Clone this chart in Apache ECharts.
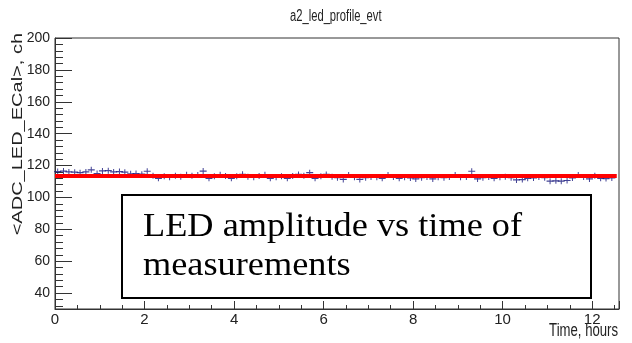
<!DOCTYPE html>
<html>
<head>
<meta charset="utf-8">
<script src="https://cdn.jsdelivr.net/npm/echarts@6/dist/echarts.min.js"></script>
<style>
  html, body { margin: 0; padding: 0; background: #fff; }
  #chart { width: 632px; height: 343px; }
</style>
</head>
<body>
<div id="chart"></div>
<script>
// texts
const chartTitle = 'a2_led_profile_evt'
const yTitle = '<ADC_LED_ECal>, ch'
const xTitle = 'Time, hours'
const noteLines = ['LED amplitude vs time of', 'measurements']

// profile bins: time (hours) and mean ADC
const timeHours = [
  0.06, 0.19, 0.31, 0.44, 0.56, 0.69, 0.81, 0.94, 1.06, 1.19,
  1.31, 1.44, 1.56, 1.69, 1.81, 1.94, 2.06, 2.19, 2.31, 2.44,
  2.56, 2.69, 2.81, 2.94, 3.06, 3.19, 3.31, 3.44, 3.56, 3.69,
  3.81, 3.94, 4.06, 4.19, 4.31, 4.44, 4.56, 4.69, 4.81, 4.94,
  5.06, 5.19, 5.31, 5.44, 5.56, 5.69, 5.81, 5.94, 6.06, 6.19,
  6.31, 6.44, 6.56, 6.69, 6.81, 6.94, 7.06, 7.19, 7.31, 7.44,
  7.56, 7.69, 7.81, 7.94, 8.06, 8.19, 8.31, 8.44, 8.56, 8.69,
  8.81, 8.94, 9.06, 9.19, 9.31, 9.44, 9.56, 9.69, 9.81, 9.94,
  10.06, 10.19, 10.31, 10.44, 10.56, 10.69, 10.81, 10.94, 11.06, 11.19,
  11.31, 11.44, 11.56, 11.69, 11.81, 11.94, 12.06, 12.19, 12.31, 12.44
]
const adcMean = [
  116.2, 116.5, 116.0, 115.8, 115.5, 116.0, 117.3, 115.0, 116.6, 116.8,
  116.0, 116.2, 115.8, 114.8, 115.0, 114.6, 116.4, 113.6, 112.0, 113.2,
  112.6, 113.6, 113.0, 114.2, 113.6, 114.0, 116.5, 112.0, 113.2, 114.2,
  113.4, 112.0, 113.2, 114.5, 113.0, 112.6, 113.4, 114.2, 112.0, 112.6,
  113.2, 112.0, 113.4, 114.4, 113.6, 115.5, 112.0, 113.2, 114.4, 113.0,
  112.4, 111.3, 114.0, 112.6, 111.3, 112.4, 112.8, 112.6, 112.0, 114.0,
  112.8, 112.0, 112.6, 112.2, 111.6, 112.4, 112.8, 111.6, 112.6, 112.4,
  112.8, 114.0, 112.6, 112.8, 116.4, 111.6, 112.4, 112.8, 112.0, 112.6,
  113.0, 112.4, 111.0, 111.2, 112.0, 112.2, 112.8, 112.4, 110.2, 110.4,
  110.2, 110.6, 112.2, 114.0, 112.8, 111.6, 113.6, 112.0, 111.8, 112.2
]

// constant fit
const fitTime = [0, 12.55]
const fitLevel = [113.5, 113.5]

// y ticks (major every 20, minor every 4)
const yMajorTicks = [40, 60, 80, 100, 120, 140, 160, 180, 200]
const yMinorTicks = []
for (let v = 32; v < 200; v += 4) {
  if (v % 20 !== 0) yMinorTicks.push(v)
}

const labelFont = 'Liberation Sans, Arial, sans-serif'
const plusSymbol = 'path://M0,2.4L3,2.4L3,0L4,0L4,2.4L7,2.4L7,3.6L4,3.6L4,6L3,6L3,3.6L0,3.6Z'

// extra left axes that only carry tick marks
const tickAxis = (values, len) => ({
  type: 'value',
  min: 30, max: 200,
  position: 'left',
  offset: 0,
  axisLine: { show: false, onZero: false },
  axisTick: { show: true, inside: true, length: len, customValues: values, lineStyle: { color: '#333' } },
  axisLabel: { show: false },
  splitLine: { show: false }
})

const chart = echarts.init(document.getElementById('chart'), null, { renderer: 'canvas' })

const option = {
  animation: false,
  backgroundColor: '#fff',
  grid: {
    left: 55, right: 13, top: 38, bottom: 34,
    show: true, borderColor: '#333', borderWidth: 1
  },
  xAxis: {
    type: 'value',
    min: 0, max: 12.6, interval: 2,
    axisLine: { onZero: false, lineStyle: { color: '#333', width: 1 } },
    axisTick: { inside: true, length: 8, lineStyle: { color: '#333' } },
    minorTick: { show: true, splitNumber: 4, length: 4, lineStyle: { color: '#333' } },
    axisLabel: { showMaxLabel: false, margin: 3, fontSize: 15, fontFamily: labelFont, color: '#222' },
    splitLine: { show: false }
  },
  yAxis: [
    {
      // axis line and labels
      type: 'value',
      min: 30, max: 200,
      offset: 0,
      axisLine: { show: true, onZero: false, lineStyle: { color: '#333', width: 1 } },
      axisTick: { show: false },
      axisLabel: { customValues: yMajorTicks, margin: 5, fontSize: 14, fontFamily: labelFont, color: '#222' },
      splitLine: { show: false }
    },
    tickAxis(yMajorTicks, 17),
    tickAxis(yMinorTicks, 8)
  ],
  series: [
    {
      type: 'scatter',
      data: timeHours.map((t, i) => [t, adcMean[i]]),
      symbol: plusSymbol,
      symbolSize: [7, 6],
      itemStyle: { color: '#14147a' },
      z: 2
    },
    {
      type: 'line',
      data: fitTime.map((t, i) => [t, fitLevel[i]]),
      showSymbol: false,
      lineStyle: { color: '#ff0000', width: 4 },
      z: 3
    }
  ],
  graphic: [
    {
      type: 'text', x: 290, y: 17, scaleX: 0.7,
      style: { text: chartTitle, fontSize: 16, fontFamily: 'Liberation Sans, Arial, sans-serif', fill: '#222', textAlign: 'left', textVerticalAlign: 'middle' }
    },
    {
      type: 'text', x: 18, y: 33, rotation: Math.PI / 2, scaleY: 0.7,
      style: { text: yTitle, fontSize: 20, fontFamily: 'Liberation Sans, Arial, sans-serif', fill: '#222', textAlign: 'right', textVerticalAlign: 'middle' }
    },
    {
      type: 'text', x: 618, y: 331, scaleX: 0.73,
      style: { text: xTitle, fontSize: 18, fontFamily: 'Liberation Sans, Arial, sans-serif', fill: '#222', textAlign: 'right', textVerticalAlign: 'middle' }
    },
    {
      type: 'rect', z: 100,
      shape: { x: 122, y: 195, width: 469, height: 103 },
      style: { fill: '#fff', stroke: '#000', lineWidth: 2 }
    },
    {
      type: 'text', z: 101, x: 143, y: 227, scaleX: 1.1,
      style: { text: noteLines[0], fontSize: 33, fontFamily: 'Liberation Serif, Times New Roman, serif', fill: '#000', textAlign: 'left', textVerticalAlign: 'middle' }
    },
    {
      type: 'text', z: 101, x: 143, y: 266, scaleX: 1.1,
      style: { text: noteLines[1], fontSize: 33, fontFamily: 'Liberation Serif, Times New Roman, serif', fill: '#000', textAlign: 'left', textVerticalAlign: 'middle' }
    }
  ]
}

chart.setOption(option)
</script>
</body>
</html>
